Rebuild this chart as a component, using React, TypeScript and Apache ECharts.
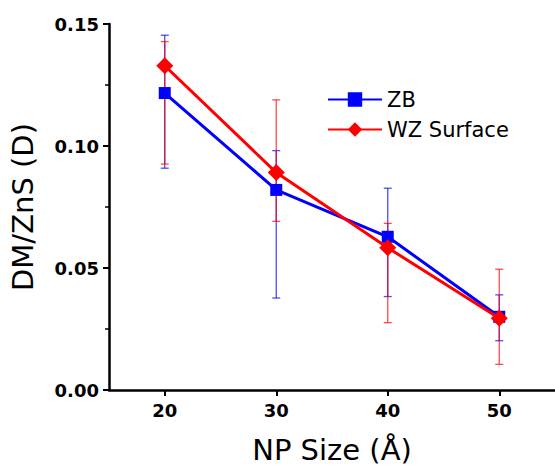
import React, { useEffect, useRef } from "react";
import * as echarts from "echarts";

const sizes = [20, 30, 40, 50];
const zbValues = [0.1217, 0.082, 0.0628, 0.030];
const zbUpper = [0.1454, 0.0981, 0.0827, 0.039];
const zbLower = [0.0909, 0.0377, 0.0383, 0.0202];
const wzValues = [0.1329, 0.0891, 0.0583, 0.0294];
const wzUpper = [0.1428, 0.1189, 0.0683, 0.0495];
const wzLower = [0.0926, 0.0691, 0.0276, 0.0105];
const xTicks = [20, 30, 40, 50];

const FONT = "DejaVu Sans";

function errorSeries(name: string, color: string, lo: number[], hi: number[]) {
  return {
    type: "custom",
    name: name + " err",
    z: 1,
    silent: true,
    data: sizes.map((s, i) => [s, lo[i], hi[i]]),
    renderItem: (params: any, api: any) => {
      const x = api.value(0);
      const p1 = api.coord([x, api.value(1)]);
      const p2 = api.coord([x, api.value(2)]);
      const w = 4;
      const style = { stroke: color, lineWidth: 1.3, opacity: 0.7 };
      return {
        type: "group",
        children: [
          { type: "line", shape: { x1: p1[0], y1: p1[1], x2: p2[0], y2: p2[1] }, style },
          { type: "line", shape: { x1: p1[0] - w, y1: p1[1], x2: p1[0] + w, y2: p1[1] }, style },
          { type: "line", shape: { x1: p2[0] - w, y1: p2[1], x2: p2[0] + w, y2: p2[1] }, style },
        ],
      };
    },
  };
}

export default function App() {
  const ref = useRef<HTMLDivElement>(null);
  useEffect(() => {
    if (!ref.current) return;
    const chart = echarts.init(ref.current, null, { renderer: "svg" });
    chart.setOption({
      animation: false,
      backgroundColor: "#ffffff",
      grid: { left: 104, top: 24, right: 0, bottom: 81 },
      legend: {
        orient: "vertical",
        left: 322,
        top: 84,
        itemGap: 9,
        itemWidth: 54,
        itemHeight: 18,
        data: ["ZB", "WZ Surface"],
        textStyle: { fontFamily: FONT, fontSize: 21, color: "#000" },
      },
      xAxis: {
        type: "value",
        min: 15,
        max: 55,
        name: "NP Size (Å)",
        nameLocation: "middle",
        nameGap: 45,
        nameTextStyle: { fontFamily: FONT, fontSize: 29, color: "#000" },
        axisLine: { show: true, lineStyle: { color: "#000", width: 2.5 } },
        axisTick: { show: true, customValues: xTicks, length: 6, lineStyle: { color: "#000", width: 2 } },
        axisLabel: { customValues: xTicks, fontFamily: FONT, fontWeight: "bold", fontSize: 18, color: "#000", margin: 11 },
        splitLine: { show: false },
      },
      yAxis: {
        type: "value",
        min: 0,
        max: 0.15,
        interval: 0.05,
        name: "DM/ZnS (D)",
        nameLocation: "middle",
        nameGap: 72,
        nameTextStyle: { fontFamily: FONT, fontSize: 29, color: "#000" },
        axisLine: { show: true, lineStyle: { color: "#000", width: 2.5 } },
        axisTick: { show: true, length: 6, lineStyle: { color: "#000", width: 2 } },
        minorTick: { show: true, splitNumber: 2, length: 4, lineStyle: { color: "#000", width: 1.5 } },
        axisLabel: {
          fontFamily: FONT,
          fontWeight: "bold",
          fontSize: 18,
          color: "#000",
          margin: 10,
          formatter: (v: number) => v.toFixed(2),
        },
        splitLine: { show: false },
      },
      series: [
        errorSeries("ZB", "#0000ff", zbLower, zbUpper),
        errorSeries("WZ Surface", "#ff0000", wzLower, wzUpper),
        {
          type: "line",
          name: "ZB",
          z: 3,
          data: sizes.map((s, i) => [s, zbValues[i]]),
          symbol: "rect",
          symbolSize: 12,
          itemStyle: { color: "#0000ff" },
          lineStyle: { color: "#0000ff", width: 3 },
        },
        {
          type: "line",
          name: "WZ Surface",
          z: 4,
          data: sizes.map((s, i) => [s, wzValues[i]]),
          symbol: "diamond",
          symbolSize: 17,
          itemStyle: { color: "#ff0000" },
          lineStyle: { color: "#ff0000", width: 3 },
        },
      ],
    });
    return () => chart.dispose();
  }, []);
  return (
    <div
      ref={ref}
      style={{ position: "fixed", left: 0, top: 0, width: 555, height: 471 }}
    />
  );
}
